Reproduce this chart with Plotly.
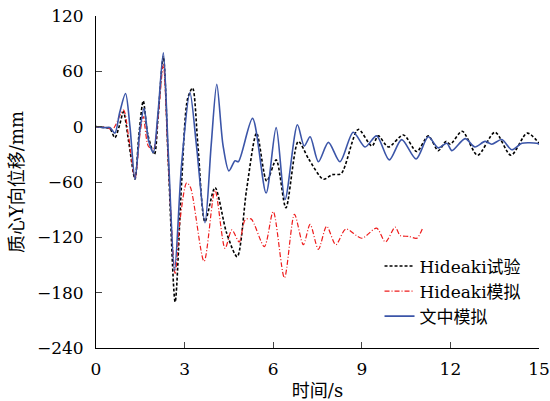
import plotly.graph_objects as go

# Hideaki test (black dashed)
t_exp = [0, 0.3, 0.47, 0.64, 0.8, 0.93, 1.1, 1.32, 1.45, 1.6, 1.75, 1.98, 2.1, 2.28, 2.45, 2.68,
         2.9, 3.1, 3.27, 3.45, 3.69, 4.03, 4.42, 4.78, 5.1, 5.44, 5.78, 6.1, 6.43, 6.85, 7.2,
         7.7, 8.0, 8.3, 8.88, 9.34, 9.56, 9.9, 10.41, 10.86, 11.25, 11.59, 11.85, 12.0, 12.4,
         12.92, 13.51, 14.05, 14.6, 15.0]
y_exp = [0, -1, -2, -12, 2, 16, -15, -57, -10, 28, -8, -30, 10, 76, -40, -190,
         -60, 30, 42, -20, -103, -66, -115, -141, -68, -7, -59, -36, -88, -16, -35,
         -57, -52, -51, -3, -21, -10, -22, -9, -27, -10, -26, -16, -19, -5,
         -31, -6, -31, -7, -18]

# Hideaki simulation (red dash-dot)
t_hsim = [0, 0.4, 0.55, 0.65, 0.93, 1.1, 1.32, 1.5, 1.6, 1.77, 1.94, 2.1, 2.28, 2.45, 2.68,
          2.85, 3.07, 3.2, 3.66, 4.03, 4.37, 4.6, 4.85, 5.05, 5.25, 5.7, 6.0, 6.38, 6.72,
          7.02, 7.25, 7.53, 7.81, 8.12, 8.46, 9.0, 9.5, 9.8, 10.13, 10.3, 10.6, 10.86, 11.06]
y_hsim = [0, -1, -4, 1, 18, -10, -56, -5, 11, -21, -25, 10, 67, -40, -159,
          -100, -61, -66, -146, -69, -132, -112, -125, -101, -100, -130, -92, -164, -95,
          -128, -106, -133, -108, -128, -111, -121, -110, -125, -109, -118, -119, -121, -110]

# This paper's simulation (blue solid)
t_sim = [0, 0.3, 0.47, 0.64, 0.8, 1.0, 1.15, 1.32, 1.5, 1.63, 1.78, 1.94, 2.1, 2.28, 2.45,
         2.66, 2.9, 3.18, 3.4, 3.69, 3.9, 4.09, 4.3, 4.5, 4.71, 4.82, 5.3, 5.76, 6.1, 6.4,
         6.82, 7.05, 7.25, 7.53, 7.87, 8.26, 8.71, 9.11, 9.5, 9.93, 10.35, 10.84, 11.25,
         11.59, 11.88, 12.05, 12.5, 12.83, 13.17, 13.4, 13.74, 14.08, 14.42, 14.92, 15.0]
y_sim = [0, -1, -1, -7, 15, 36, 0, -57, 0, 20, -15, -28, 15, 80, -30,
         -156, -40, 37, -20, -104, -20, 46, -20, -48, -37, -38, 9, -72, -1, -79,
         2, -21, -11, -38, -17, -38, -6, -22, -10, -36, -14, -35, -11,
         -23, -18, -26, -13, -22, -16, -19, -14, -25, -18, -18, -19]

x_ticks = [0, 3, 6, 9, 12, 15]
y_ticks = [-240, -180, -120, -60, 0, 60, 120]

serif = "DejaVu Serif, Noto Sans CJK SC, serif"

fig = go.Figure()
fig.add_trace(go.Scatter(x=t_exp, y=y_exp, mode="lines", name="Hideaki试验",
                         line=dict(color="black", width=1.6, dash="3px,2px", shape="spline", smoothing=0.8)))
fig.add_trace(go.Scatter(x=t_hsim, y=y_hsim, mode="lines", name="Hideaki模拟",
                         line=dict(color="#ee1c1c", width=1.2, dash="5px,2px,1px,2px", shape="spline", smoothing=0.8)))
fig.add_trace(go.Scatter(x=t_sim, y=y_sim, mode="lines", name="文中模拟",
                         line=dict(color="#3b55a8", width=1.6, shape="spline", smoothing=0.8)))

fig.update_layout(
    width=550, height=401,
    margin=dict(l=96, r=11, t=16, b=53),
    paper_bgcolor="white", plot_bgcolor="white",
    font=dict(family=serif, size=17, color="black"),
    showlegend=True,
    legend=dict(x=0.64, y=0.30, xanchor="left", yanchor="top",
                bgcolor="rgba(0,0,0,0)", font=dict(size=17, family=serif),
                tracegroupgap=0, itemwidth=30),
    xaxis=dict(range=[0, 15], tickvals=x_ticks, ticks="inside", ticklen=6, tickwidth=1,
               showline=True, linecolor="black", linewidth=1, showgrid=False, zeroline=False,
               tickfont=dict(size=17, family=serif), ticklabelstandoff=6, automargin=False,
               title=dict(text="时间/s", font=dict(size=18, family=serif), standoff=8)),
    yaxis=dict(range=[-240, 120], tickvals=y_ticks, ticks="inside", ticklen=6, tickwidth=1,
               showline=True, linecolor="black", linewidth=1, showgrid=False, zeroline=False,
               tickfont=dict(size=17, family=serif), ticklabelstandoff=8, automargin=False,
               title=dict(text="质心Y向位移/mm", font=dict(size=18, family=serif), standoff=8)),
)

fig.write_html("out.html")
